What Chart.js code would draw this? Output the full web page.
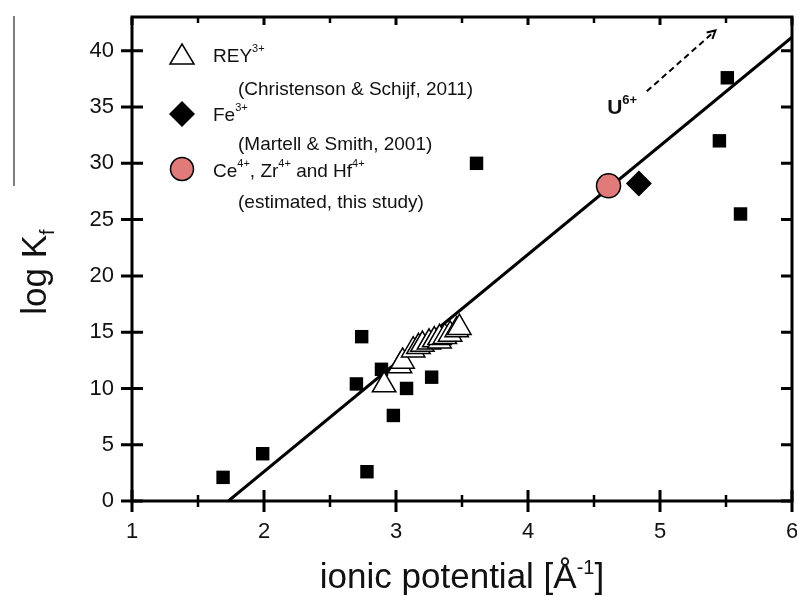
<!DOCTYPE html>
<html>
<head>
<meta charset="utf-8">
<script src="https://cdn.jsdelivr.net/npm/chart.js@4.4.1/dist/chart.umd.min.js"></script>
<style>
  html, body { margin: 0; padding: 0; background: #fff; }
  #wrap { width: 797px; height: 596px; }
</style>
</head>
<body>
<div id="wrap"><canvas id="chart" width="797" height="596"></canvas></div>
<script>
// other ions (black squares)
const otherX = [1.69, 1.99, 2.70, 2.74, 2.78, 2.89, 2.98, 3.08, 3.27, 3.61, 5.45, 5.51, 5.61];
const otherY = [2.1, 4.2, 10.4, 14.6, 2.6, 11.7, 7.6, 10.0, 11.0, 30.0, 32.0, 37.6, 25.5];
// REY3+ (Christenson & Schijf, 2011)
const reyX = [2.91, 3.03, 3.05, 3.13, 3.17, 3.20, 3.25, 3.29, 3.33, 3.33, 3.37, 3.41, 3.46, 3.48];
const reyY = [10.3, 12.0, 12.4, 13.4, 13.7, 13.9, 14.1, 14.3, 14.2, 14.5, 14.6, 14.8, 15.2, 15.4];
// Fe3+ (Martell & Smith, 2001)
const feX = [4.84];
const feY = [28.2];
// Ce4+, Zr4+ and Hf4+ (estimated)
const ceX = [4.61];
const ceY = [28.0];
// regression line
const fitX = [1.73, 6];
const fitY = [0, 41.2];

const xTicks = [1, 2, 3, 4, 5, 6];
const yTicks = [0, 5, 10, 15, 20, 25, 30, 35, 40];

const FONT = "'Liberation Sans', Arial, sans-serif";
const pts = (xs, ys) => xs.map((x, i) => ({ x: x, y: ys[i] }));

// superscript / subscript text helper
function richText(ctx, x, y, parts, align) {
  // parts: [text, size, dy, bold]
  let w = 0;
  parts.forEach(p => { ctx.font = (p[3] ? 'bold ' : '') + p[1] + 'px ' + FONT; w += ctx.measureText(p[0]).width; });
  let cx = align === 'center' ? x - w / 2 : x;
  parts.forEach(p => {
    ctx.font = (p[3] ? 'bold ' : '') + p[1] + 'px ' + FONT;
    ctx.textAlign = 'left';
    ctx.fillText(p[0], cx, y + p[2]);
    cx += ctx.measureText(p[0]).width;
  });
}

const decorPlugin = {
  id: 'decor',
  afterDatasetsDraw(chart) {
    const ctx = chart.ctx;
    const a = chart.chartArea;
    const xs = chart.scales.x, ys = chart.scales.y;
    ctx.save();
    ctx.strokeStyle = '#000';
    ctx.fillStyle = '#000';

    // frame
    ctx.lineWidth = 3;
    ctx.strokeRect(a.left, a.top, a.right - a.left, a.bottom - a.top);

    // x ticks (major + minor), bottom both sides, top inward
    for (let v = 1; v <= 6.001; v += 0.5) {
      const px = xs.getPixelForValue(v);
      const major = Math.abs(v - Math.round(v)) < 1e-6;
      const len = major ? 11 : 6;
      ctx.lineWidth = major ? 3 : 2.5;
      ctx.beginPath();
      ctx.moveTo(px, a.bottom - len); ctx.lineTo(px, a.bottom + len);
      ctx.moveTo(px, a.top); ctx.lineTo(px, a.top + (major ? 8 : 6));
      ctx.stroke();
    }
    // y ticks, left both sides, right inward
    yTicks.forEach(v => {
      const py = ys.getPixelForValue(v);
      ctx.lineWidth = 3;
      ctx.beginPath();
      ctx.moveTo(a.left - 11, py); ctx.lineTo(a.left + 11, py);
      ctx.moveTo(a.right - 11, py); ctx.lineTo(a.right, py);
      ctx.stroke();
    });

    // legend
    const sx = a.left + 50;
    ctx.lineWidth = 1.5;
    // triangle
    let cy = 55;
    ctx.beginPath();
    ctx.moveTo(sx, cy - 11); ctx.lineTo(sx + 12, cy + 9); ctx.lineTo(sx - 12, cy + 9); ctx.closePath();
    ctx.fillStyle = '#fff'; ctx.fill(); ctx.stroke();
    // diamond
    cy = 114;
    ctx.beginPath();
    ctx.moveTo(sx, cy - 13); ctx.lineTo(sx + 13, cy); ctx.lineTo(sx, cy + 13); ctx.lineTo(sx - 13, cy); ctx.closePath();
    ctx.fillStyle = '#000'; ctx.fill();
    // circle
    cy = 169;
    ctx.beginPath();
    ctx.arc(sx, cy, 11.5, 0, Math.PI * 2);
    ctx.fillStyle = '#E07B7A'; ctx.fill(); ctx.stroke();

    ctx.fillStyle = '#111';
    ctx.textBaseline = 'middle';
    const tx = sx + 31, tx2 = sx + 56;
    richText(ctx, tx, 57, [['REY', 19, 0], ['3+', 11, -8]]);
    richText(ctx, tx2, 90, [['(Christenson & Schijf, 2011)', 19, 0]]);
    richText(ctx, tx, 116, [['Fe', 19, 0], ['3+', 11, -8]]);
    richText(ctx, tx2, 145, [['(Martell & Smith, 2001)', 19, 0]]);
    richText(ctx, tx, 172, [['Ce', 19, 0], ['4+', 11, -8], [', Zr', 19, 0], ['4+', 11, -8], [' and Hf', 19, 0], ['4+', 11, -8]]);
    richText(ctx, tx2, 203, [['(estimated, this study)', 19, 0]]);

    // U6+ annotation with dashed arrow
    const ux = xs.getPixelForValue(4.6), uy = ys.getPixelForValue(34.9);
    richText(ctx, ux, uy, [['U', 21, 0, true], ['6+', 13, -8, true]]);
    const x0 = xs.getPixelForValue(4.90), y0 = ys.getPixelForValue(36.4);
    const x1 = xs.getPixelForValue(5.42), y1 = ys.getPixelForValue(41.8);
    ctx.strokeStyle = '#000';
    ctx.lineWidth = 2;
    ctx.setLineDash([6, 4]);
    ctx.beginPath(); ctx.moveTo(x0, y0); ctx.lineTo(x1, y1); ctx.stroke();
    ctx.setLineDash([]);
    const ang = Math.atan2(y1 - y0, x1 - x0);
    ctx.beginPath();
    ctx.moveTo(x1 - 9 * Math.cos(ang - 0.5), y1 - 9 * Math.sin(ang - 0.5));
    ctx.lineTo(x1, y1);
    ctx.lineTo(x1 - 9 * Math.cos(ang + 0.5), y1 - 9 * Math.sin(ang + 0.5));
    ctx.stroke();

    // axis titles
    ctx.fillStyle = '#111';
    ctx.textBaseline = 'alphabetic';
    richText(ctx, (a.left + a.right) / 2, 588, [['ionic potential [Å', 35, 0], ['-1', 20, -14], [']', 35, 0]], 'center');
    ctx.save();
    ctx.translate(46, 272);
    ctx.rotate(-Math.PI / 2);
    richText(ctx, 0, 0, [['log K', 35, 0], ['f', 20, 8]], 'center');
    ctx.restore();
    // overline by the y title
    ctx.strokeStyle = '#555';
    ctx.lineWidth = 1.5;
    ctx.beginPath(); ctx.moveTo(14, 16); ctx.lineTo(14, 186); ctx.stroke();

    ctx.restore();
  }
};

const ctx = document.getElementById('chart').getContext('2d');
new Chart(ctx, {
  type: 'scatter',
  data: {
    datasets: [
      {
        label: 'Ce4+, Zr4+ and Hf4+',
        data: pts(ceX, ceY),
        pointStyle: 'circle', pointRadius: 12, pointHoverRadius: 12,
        backgroundColor: '#E07B7A', borderColor: '#000', borderWidth: 1.5
      },
      {
        label: 'Fe3+',
        data: pts(feX, feY),
        pointStyle: 'rectRot', pointRadius: 13, pointHoverRadius: 13,
        backgroundColor: '#000', borderColor: '#000', borderWidth: 0
      },
      {
        label: 'REY3+',
        data: pts(reyX, reyY),
        pointStyle: 'triangle', pointRadius: 13.5, pointHoverRadius: 13.5,
        backgroundColor: '#fff', borderColor: '#000', borderWidth: 1.5
      },
      {
        label: 'other',
        data: pts(otherX, otherY),
        pointStyle: 'rect', pointRadius: 9.5, pointHoverRadius: 9.5,
        backgroundColor: '#000', borderColor: '#000', borderWidth: 0
      },
      {
        type: 'line',
        label: 'fit',
        data: pts(fitX, fitY),
        borderColor: '#000', borderWidth: 3, pointRadius: 0, fill: false, showLine: true
      }
    ]
  },
  options: {
    responsive: false,
    animation: false,
    devicePixelRatio: 1,
    layout: { autoPadding: false, padding: { top: 17, right: 5, left: 0, bottom: 0 } },
    plugins: { legend: { display: false }, tooltip: { enabled: false } },
    scales: {
      x: {
        type: 'linear', min: 1, max: 6,
        afterBuildTicks: s => { s.ticks = xTicks.map(v => ({ value: v })); },
        afterFit: s => { s.height = 95; s.paddingLeft = 0; s.paddingRight = 0; },
        grid: { display: false, drawTicks: false },
        border: { display: false },
        ticks: { padding: 18, color: '#111', font: { family: FONT, size: 22 } }
      },
      y: {
        type: 'linear', min: 0, max: 43,
        afterBuildTicks: s => { s.ticks = yTicks.map(v => ({ value: v })); },
        afterFit: s => { s.width = 132; s.paddingTop = 0; s.paddingBottom = 0; },
        grid: { display: false, drawTicks: false },
        border: { display: false },
        ticks: { padding: 18, color: '#111', font: { family: FONT, size: 22 } }
      }
    }
  },
  plugins: [decorPlugin]
});
</script>
</body>
</html>
